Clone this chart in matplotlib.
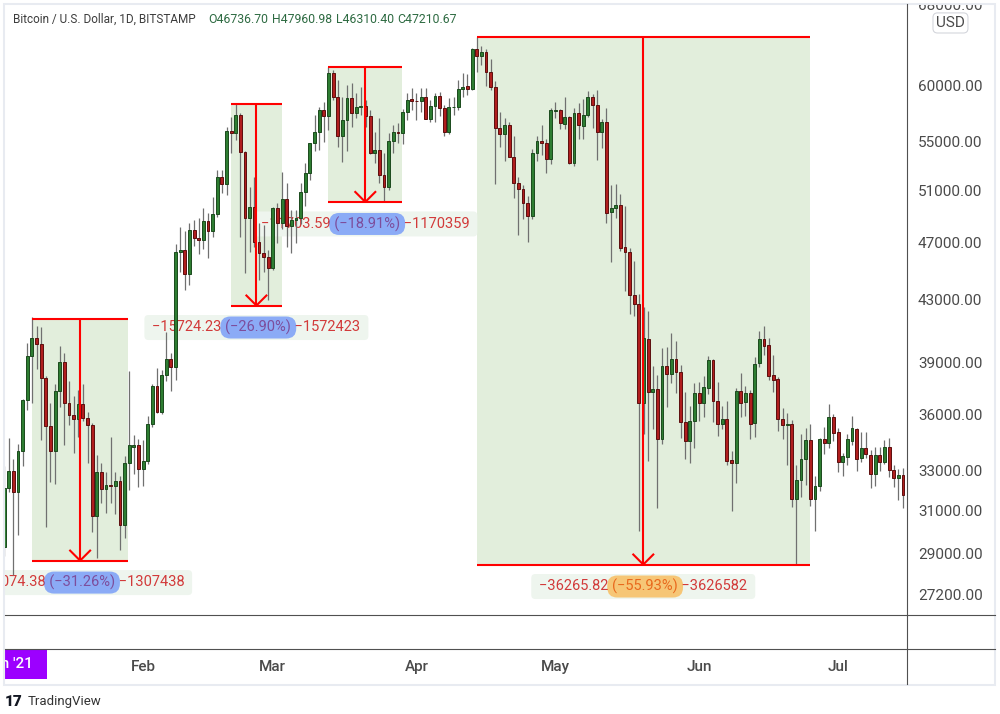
import numpy as np
import matplotlib
matplotlib.use("Agg")
import matplotlib.pyplot as plt
from matplotlib.patches import Rectangle, FancyBboxPatch
from matplotlib.lines import Line2D
from matplotlib.transforms import IdentityTransform
from matplotlib.font_manager import FontProperties

plt.rcParams["font.family"] = ["Roboto", "DejaVu Sans"]

# BTC/USD daily candles, 1 Jan 2021 .. 15 Jul 2021
opens = [
    # Jan
    28990, 29370, 32200, 33050, 32000, 34100, 36900, 39500, 40650, 40230, 38160, 35450, 34100, 37400, 39150, 36750,
    36030, 35800, 36650, 35880, 35500, 30800, 32980, 32150, 32350, 32270, 32550, 30370, 33480, 34320, 34420,
    # Feb
    33130, 33540, 35540, 37710, 36240, 38350, 39300, 38850, 46420, 46560, 44860, 48050, 47430, 47290, 48720, 47980,
    49230, 52200, 51580, 56030, 55900, 57470, 54210, 48940, 49770, 47130, 46340, 46100,
    # Mar
    45270, 49690, 48550, 50420, 48370, 48800, 48950, 50970, 52460, 54990, 55990, 57890, 57320, 61290, 59040, 55620,
    57000, 59010, 57650, 58130, 58260, 57380, 54120, 54410, 52300, 51350, 55150, 55970, 55820, 57710, 58870,
    # Apr
    58740, 58700, 59100, 57110, 58260, 59170, 58050, 55990, 58130, 58200, 59790, 60090, 59840, 63680, 63000, 63350,
    61450, 60030, 56320, 55740, 56560, 53840, 51710, 51180, 50130, 49120, 54120, 55150, 54990, 53620,
    # May
    57810, 57890, 56650, 57230, 53300, 57600, 56450, 57420, 59040, 58340, 55940, 56800, 49430, 49740, 49950, 46780,
    46450, 43460, 42830, 36740, 40590, 37340, 37510, 34710, 38900, 38400, 39320, 38520, 35670, 34640, 35710,
    # Jun
    37320, 36700, 37580, 39260, 36850, 35540, 35800, 33610, 33440, 37410, 36760, 37320, 35600, 39060, 40550, 40190,
    38350, 38100, 35850, 35510, 35570, 31620, 32570, 33660, 34670, 31620, 32300, 34720, 34490, 35930,
    # Jul
    35100, 33520, 33770, 34630, 35270, 33740, 34250, 33880, 32880, 33880, 33520, 34300, 33100, 32700, 32840,
]
highs = [
    29600, 33300, 34800, 33650, 34450, 36950, 40300, 42000, 41400, 41300, 38300, 36700, 37800, 40100, 39700, 38000,
    37100, 37450, 37850, 36200, 35600, 33850, 33450, 32980, 34850, 33000, 32800, 33800, 38600, 34950, 34750,
    34700, 36000, 37850, 38760, 38660, 41000, 39700, 47000, 48300, 47950, 48600, 48800, 48930, 49690, 49300, 50600,
    52740, 52740, 56360, 57290, 58450, 57600, 54300, 51390, 52150, 48560, 48430, 46600,
    49820, 50100, 52600, 51700, 49560, 49560, 51660, 53300, 55000, 57450, 58210, 58650, 61891, 61610, 60660, 59100,
    60190, 60340, 59470, 59970, 58800, 57890, 55960, 57190, 54130, 55820, 56560, 56700, 58000, 59410, 59880,
    59410, 59880, 59880, 58800, 59410, 59570, 58380, 58960, 59100, 60660, 61290, 61200, 63750, 64841, 63960, 63640,
    62640, 60560, 57680, 57160, 56850, 55610, 52200, 51530, 50670, 54480, 55610, 56560, 55340, 58040,
    58650, 57980, 59100, 57350, 58040, 58560, 58860, 59640, 59350, 59720, 57060, 58040, 51490, 51570, 50790, 49870,
    46700, 45800, 43490, 42600, 42360, 38900, 38360, 40010, 40080, 40950, 40460, 38960, 37340, 36550, 37900,
    37920, 38300, 39510, 39300, 37920, 36550, 36840, 34090, 37570, 38460, 37710, 37470, 39460, 41070, 41390, 40620,
    39560, 38260, 36420, 36150, 35770, 33350, 35000, 35340, 35560, 32780, 34790, 35380, 36650, 36100,
    35300, 34000, 35000, 36000, 35300, 35130, 35130, 34140, 34300, 34300, 34670, 34790, 33350, 33150, 33190,
]
lows = [
    28800, 28950, 32000, 28100, 29900, 33300, 36300, 36700, 38700, 34700, 30300, 32500, 32400, 36500, 34400, 35500,
    34000, 34850, 35700, 33450, 30050, 28850, 31450, 30950, 31450, 30900, 29230, 29800, 32100, 32900, 32250,
    32300, 33400, 35400, 36160, 36100, 38000, 37400, 38060, 45030, 43770, 44110, 46880, 46260, 46650, 46030, 47560,
    49010, 50870, 50740, 54150, 55260, 47560, 44930, 46450, 46800, 44460, 45000, 43130,
    45150, 47100, 48150, 46800, 46360, 47100, 48500, 49900, 51900, 54300, 54410, 55110, 56120, 58800, 54660, 53400,
    54300, 56410, 57140, 57450, 56410, 54060, 53300, 51710, 50300, 51100, 54130, 54990, 54900, 57000, 57890,
    57000, 57740, 57060, 56850, 56800, 57320, 55560, 55800, 57450, 57890, 59100, 59260, 59750, 61450, 62090, 60130,
    59720, 51610, 54630, 53510, 53790, 50530, 47640, 48850, 47140, 48870, 53490, 53960, 52460, 53220,
    57140, 56180, 56200, 53220, 53030, 55340, 55340, 57300, 56320, 53570, 54600, 48610, 45720, 48980, 46510, 43700,
    42160, 42020, 30120, 35000, 33570, 35250, 31200, 34460, 36510, 37900, 37300, 34760, 33660, 33480, 34250,
    35730, 35960, 37260, 35640, 34910, 35270, 33350, 31070, 32450, 35910, 36000, 34710, 34850, 38850, 39560, 38090,
    37360, 35180, 34730, 33350, 31250, 28600, 31720, 32330, 31300, 30120, 32050, 33910, 34250, 34600,
    33000, 32780, 33350, 34420, 33050, 33520, 33700, 32160, 32280, 33050, 33400, 32730, 32250, 31590, 31180,
]
closes = [
    29370, 32200, 33050, 32000, 34100, 36900, 39500, 40650, 40230, 38160, 35450, 34100, 37400, 39150, 36750, 36030,
    35800, 36650, 35880, 35500, 30800, 32980, 32150, 32350, 32270, 32550, 30370, 33480, 34390, 34420, 33130,
    33540, 35540, 37710, 36240, 38350, 39300, 38850, 46420, 46560, 44860, 48050, 47430, 47290, 48720, 47980, 49230,
    52200, 51580, 56030, 55900, 57470, 54210, 48940, 49770, 47130, 46340, 46100, 45270,
    49690, 48550, 50420, 48370, 48800, 48950, 50970, 52460, 54990, 55990, 57890, 57320, 61290, 59040, 55620, 57000,
    59010, 57650, 58130, 58260, 57380, 54120, 54410, 52300, 51350, 55150, 55970, 55820, 57710, 58780, 58740,
    58700, 59100, 57110, 58260, 59170, 58050, 55990, 58130, 58200, 59790, 60020, 59840, 63680, 63000, 63350, 61450,
    60030, 56320, 55740, 56560, 53840, 51710, 51180, 50130, 49120, 54120, 55150, 54990, 53620, 57890,
    57890, 56700, 57230, 53300, 57600, 56520, 57450, 59040, 58340, 55940, 56800, 49360, 49690, 49950, 46750, 46450,
    43460, 42830, 36740, 40650, 37340, 37510, 34710, 38900, 38400, 39320, 38520, 35670, 34640, 35710, 37320,
    36700, 37630, 39260, 36850, 35540, 35800, 33570, 33440, 37410, 36700, 37320, 35540, 39020, 40550, 40150, 38320,
    38060, 35830, 35510, 35570, 31620, 32570, 33660, 34670, 31620, 32280, 34720, 34490, 35930, 35040,
    33520, 33810, 34720, 35330, 33660, 34250, 33920, 32910, 33880, 33520, 34300, 33120, 32700, 32840, 31840,
]

month_names = ["Feb", "Mar", "Apr", "May", "Jun", "Jul"]
month_days = [31, 59, 90, 120, 151, 181]
price_levels = [68000, 60000, 55000, 51000, 47000, 43000, 39000, 36000, 33000, 31000, 29000, 27200]

# price range drawings: start/end day, top price, change
range_start = [7.0, 50.0, 71.0, 103.0]
range_end = [27.8, 60.9, 86.9, 174.9]
range_top = [41824.6, 58454.4, 61891.0, 64841.4]
range_change = [-13074.38, -15724.23, -11703.59, -36265.82]
range_marker = ["#2962ff", "#2962ff", "#2962ff", "#ff9800"]

W, H = 1000, 714
fig = plt.figure(figsize=(10, 7.14), dpi=100)
fig.patch.set_facecolor("white")


def fbox(x0, y0, x1, y1):
    return [x0 / W, 1 - y1 / H, (x1 - x0) / W, (y1 - y0) / H]


ax = fig.add_axes(fbox(5, 4, 907, 615))
ax_p = fig.add_axes(fbox(907, 4, 995, 615))
ax_t = fig.add_axes(fbox(5, 649.3, 907, 684))

x_lim = (1.187, 195.87)
y_lim = (26420, 68258)

ax.set_yscale("log")
ax.set_xlim(*x_lim)
ax.set_ylim(*y_lim)
ax.axis("off")

# candles
o = np.array(opens, float)
c = np.array(closes, float)
hi = np.array(highs, float)
lo = np.array(lows, float)
days = np.arange(len(o))
up = c >= o
green, green_edge = "#2e7d32", "#1b4a1d"
red, red_edge = "#b01e1e", "#5c0e0e"
ax.vlines(days, lo, hi, color="#707070", lw=0.9, zorder=3)
ax.bar(days, np.abs(c - o), bottom=np.minimum(o, c), width=0.62,
       color=[green if u else red for u in up],
       edgecolor=[green_edge if u else red_edge for u in up],
       linewidth=0.7, zorder=4)

# price range drawings
fp = FontProperties(family=["Roboto", "DejaVu Sans"], size=10.5)
renderer = fig.canvas.get_renderer()


def text_w(s):
    w, h, d = renderer.get_text_width_height_descent(s, fp, ismath=False)
    return w


def fmt(v):
    return v.replace("-", "\u2212")


for x0, x1, top, chg, mk in zip(range_start, range_end, range_top, range_change, range_marker):
    bottom = top + chg
    mid = (x0 + x1) / 2
    ax.add_patch(Rectangle((x0, bottom), x1 - x0, top - bottom, fc="#e2eedc", ec="none", zorder=1))
    ax.hlines([top, bottom], x0, x1, color="#ff0000", lw=1.5, zorder=5)
    ax.vlines(mid, bottom, top, color="#ff0000", lw=1.5, zorder=5)
    X, Y = ax.transData.transform((mid, bottom))
    ax.add_artist(Line2D([X - 10, X, X + 10], [Y + 10, Y, Y + 10], transform=IdentityTransform(),
                         color="#ff0000", lw=1.5, zorder=5))

    pct = chg / top * 100
    s_val = fmt(f"{chg:.2f}")
    s_pct = fmt(f"({pct:.2f}%)")
    s_tick = fmt(f"{round(chg * 100)}")
    label = f"{s_val} {s_pct} {s_tick}"
    ly = Y - 22
    ax.add_patch(FancyBboxPatch((X - 112, ly - 12.5), 224, 25, boxstyle="round,pad=0,rounding_size=4",
                                fc="#eef5ee", ec="none", transform=IdentityTransform(), zorder=2))
    ax.text(X, ly, label, transform=IdentityTransform(), ha="center", va="center",
            fontproperties=fp, color="#d23a3a", zorder=2.5, clip_on=True)
    left = X - text_w(label) / 2
    px0 = left + text_w(s_val + " ")
    pw = text_w(s_pct)
    ax.add_patch(FancyBboxPatch((px0 - 5, ly - 11), pw + 10, 22, boxstyle="round,pad=0,rounding_size=10",
                                fc=mk, alpha=0.5, ec="none", transform=IdentityTransform(), zorder=6))

# price axis
ax_p.set_yscale("log")
ax_p.set_ylim(*y_lim)
ax_p.set_xlim(0, 1)
ax_p.axis("off")
for lv in price_levels:
    ax_p.text(0.125, lv, f"{lv:.2f}", ha="left", va="center", fontsize=11, color="#4a4a4a", clip_on=True)
ax_p.text(0.494, 0.969, "USD", transform=ax_p.transAxes, ha="center", va="center", fontsize=11,
          color="#4a4a4a",
          bbox=dict(boxstyle="round,pad=0.2,rounding_size=0.3", fc="white", ec="#d4d6dc", lw=0.8))

# time axis
ax_t.set_xlim(*x_lim)
ax_t.set_ylim(0, 1)
ax_t.axis("off")
for d, name in zip(month_days, month_names):
    ax_t.text(d, 0.5, name, ha="center", va="center", fontsize=11, color="#4a4a4a", fontweight="medium")
ax_t.add_patch(Rectangle((0, 0.144), 41.7 / 902, 0.856, transform=ax_t.transAxes, fc="#9c00ff", ec="none"))
ax_t.text(28.3 / 902, 0.576, "Jan '21", transform=ax_t.transAxes, ha="right", va="center",
          fontsize=11, color="white", fontweight="medium", clip_on=True)

# frame lines
line_col = "#505050"
for yy in (615.3, 649.3):
    fig.add_artist(Line2D([5 / W, 995 / W], [1 - yy / H] * 2, transform=fig.transFigure, color=line_col, lw=0.8))
fig.add_artist(Line2D([907 / W] * 2, [1 - 4 / H, 1 - 684 / H], transform=fig.transFigure, color=line_col, lw=0.8))
fig.add_artist(Rectangle((4 / W, 1 - 685 / H), 991 / W, 681 / H, transform=fig.transFigure,
                         fill=False, ec="#e8ebf1", lw=1.5))

# header
fig.text(13 / W, 1 - 19.5 / H, "Bitcoin / U.S. Dollar, 1D, BITSTAMP", ha="left", va="center",
         fontsize=8.5, color="#3c3c3c")
for xx, s in zip([208, 271.7, 335.7, 397.3], ["O46736.70", "H47960.98", "L46310.40", "C47210.67"]):
    fig.text(xx / W, 1 - 19.5 / H, s, ha="left", va="center", fontsize=8.8, color="#2e6b42")

# watermark
fig.text(5 / W, 1 - 702 / H, "17", ha="left", va="center", fontsize=11, fontweight="heavy", color="#131722")
fig.text(28 / W, 1 - 702 / H, "TradingView", ha="left", va="center", fontsize=9.5, color="#333333")

fig.savefig("out.png", dpi=100, facecolor="white")
